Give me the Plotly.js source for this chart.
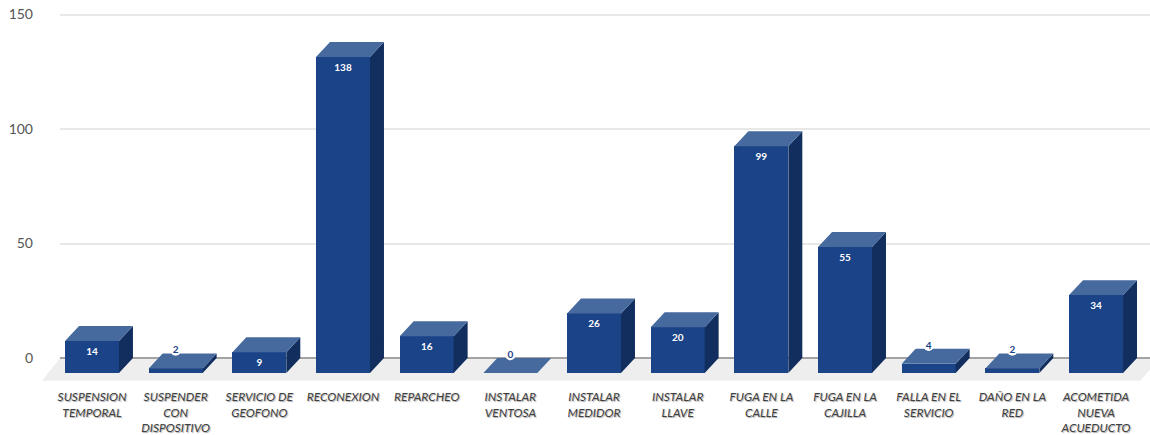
<!DOCTYPE html>
<html>
<head>
<meta charset="utf-8">
<script src="https://cdn.plot.ly/plotly-3.0.1.min.js"></script>
<style>html,body{margin:0;padding:0;background:#fff}#chart{width:1150px;height:435px}</style>
</head>
<body>
<div id="chart"></div>
<script>
// Service requests by type
const categories = [
  'SUSPENSION<br>TEMPORAL', 'SUSPENDER<br>CON<br>DISPOSITIVO', 'SERVICIO DE<br>GEOFONO',
  'RECONEXION', 'REPARCHEO', 'INSTALAR<br>VENTOSA', 'INSTALAR<br>MEDIDOR', 'INSTALAR<br>LLAVE',
  'FUGA EN LA<br>CALLE', 'FUGA EN LA<br>CAJILLA', 'FALLA EN EL<br>SERVICIO', 'DAÑO EN LA<br>RED',
  'ACOMETIDA<br>NUEVA<br>ACUEDUCTO'
];
const values = [14, 2, 9, 138, 16, 0, 26, 20, 99, 55, 4, 2, 34];
const yTicks = [0, 50, 100, 150];

// Box proportions in axis units: the front face sits forward of the back wall
const barWidth = 0.645;
const depthX = 0.167;
const depthY = 6.55;
const smallBar = 5;

const positions = values.map((_, i) => i);
const sideX = [], sideY = [], topX = [], topY = [];
values.forEach((v, i) => {
  const l = i - barWidth / 2, r = i + barWidth / 2;
  sideX.push(r, r + depthX, r + depthX, r, null);
  sideY.push(-depthY, 0, v, v - depthY, null);
  topX.push(l, r, r + depthX, l + depthX, null);
  topY.push(v - depthY, v - depthY, v, v, null);
});

const isSmall = v => v < smallBar;
const labelY = v => isSmall(v) ? v + 1.2 : v - depthY - 5;
const small = positions.filter(i => isSmall(values[i]));
const large = positions.filter(i => !isSmall(values[i]));

const labelFont = {family: 'Lato, sans-serif', size: 10, weight: 700};

const traces = [
  {type: 'bar', x: positions, y: values, base: -depthY, width: barWidth,
   marker: {color: '#1b4387', line: {width: 0}}, hoverinfo: 'skip'},
  {type: 'scatter', mode: 'none', x: sideX, y: sideY, fill: 'toself',
   fillcolor: '#122e5e', hoverinfo: 'skip'},
  {type: 'scatter', mode: 'none', x: topX, y: topY, fill: 'toself',
   fillcolor: '#466a9e', hoverinfo: 'skip'},
  {type: 'scatter', mode: 'text', x: large, y: large.map(i => labelY(values[i])),
   text: large.map(i => String(values[i])), textposition: 'middle center',
   textfont: Object.assign({color: '#ffffff'}, labelFont), hoverinfo: 'skip', cliponaxis: false},
  // Short boxes carry their value above the lid, on a white backing dot
  {type: 'scatter', mode: 'markers+text', x: small, y: small.map(i => labelY(values[i])),
   marker: {color: '#ffffff', size: 10, line: {width: 0}},
   text: small.map(i => String(values[i])), textposition: 'middle center',
   textfont: Object.assign({color: '#1b4387'}, labelFont),
   hoverinfo: 'skip', cliponaxis: false}
];

const layout = {
  width: 1150, height: 435,
  margin: {l: 60, r: 0, t: 10, b: 53, pad: 0},
  paper_bgcolor: '#ffffff', plot_bgcolor: '#ffffff',
  showlegend: false,
  bargap: 0,
  xaxis: {
    range: [-0.3825, 12.645], tickmode: 'array', tickvals: positions, ticktext: categories,
    showgrid: false, zeroline: false, showline: false, ticks: '',
    ticklabelstandoff: 6, tickangle: 0,
    tickfont: {family: 'Lato, sans-serif', size: 12, style: 'italic', color: '#404040',
               shadow: '1px 1px 1px #aaaaaa'}
  },
  yaxis: {
    range: [-10.5, 152], tickmode: 'array', tickvals: yTicks,
    showgrid: true, gridcolor: '#e8e8e8', gridwidth: 2,
    zeroline: true, zerolinecolor: '#a3a3a3', zerolinewidth: 2,
    showline: false, ticks: '', ticklabelstandoff: 26,
    tickfont: {family: 'Lato, sans-serif', size: 14, color: '#555555'}
  },
  shapes: [{
    // Floor plane under the bars
    type: 'path', layer: 'below', xref: 'paper', yref: 'y',
    path: 'M -0.0165 -10 L 0 0 L 1 0 L 1 -5.2 L 0.9908 -10 Z',
    fillcolor: '#eeeeee', line: {width: 0}
  }]
};

Plotly.newPlot('chart', traces, layout, {displayModeBar: false, staticPlot: true});
</script>
</body>
</html>
